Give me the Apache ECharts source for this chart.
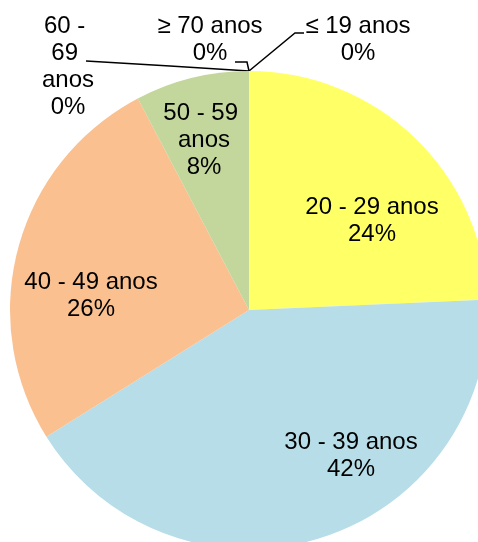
<!DOCTYPE html>
<html>
<head>
<meta charset="utf-8">
<script src="https://cdn.jsdelivr.net/npm/echarts@6/dist/echarts.min.js"></script>
<style>
  html, body { margin: 0; padding: 0; background: #fff; }
  #chart-container { width: 478px; height: 542px; }
</style>
</head>
<body>
<div id="chart-container"></div>
<script>
var categories = ['≤ 19 anos', '20 - 29 anos', '30 - 39 anos', '40 - 49 anos', '50 - 59 anos', '60 - 69 anos', '≥ 70 anos'];
var values = [0, 24.3, 41.8, 26.2, 7.7, 0, 0];
var colors = ['#FFFF66', '#FFFF66', '#B7DDE8', '#FAC090', '#C3D69B', '#C3D69B', '#C3D69B'];

// label centres (px) and leader lines for the 0% slices
var labelPos = [[358, 40], [372, 221], [351, 456], [91, 296], [204, 140], [68, 67], [210, 40]];
var top0 = [249, 71];
var leaders = {
    0: [top0, [295, 33], [304, 33]],
    5: [top0, [170, 66], [86, 61]],
    6: [top0, [247, 62], [235, 62]]
};
var wrapWidth = { 4: 90, 5: 58 };

var dom = document.getElementById('chart-container');
var myChart = echarts.init(dom, null, { renderer: 'canvas' });

var seriesData = categories.map(function (name, i) {
    var item = {
        name: name,
        value: values[i],
        itemStyle: { color: colors[i] }
    };
    var lab = {};
    if (wrapWidth[i]) {
        lab.width = wrapWidth[i];
        lab.overflow = 'break';
    }
    if (leaders[i]) {
        lab.position = 'outside';
        item.labelLine = { show: true };
    }
    item.label = lab;
    return item;
});

var option = {
    backgroundColor: '#ffffff',
    animation: false,
    series: [
        {
            type: 'pie',
            center: [249, 310],
            radius: 239,
            startAngle: 90,
            clockwise: true,
            avoidLabelOverlap: false,
            itemStyle: { borderWidth: 0 },
            label: {
                show: true,
                position: 'inside',
                color: '#000',
                fontFamily: 'Liberation Sans, Arial, sans-serif',
                fontSize: 24,
                lineHeight: 27,
                align: 'center',
                formatter: function (p) {
                    return p.name + '\n' + Math.round(p.percent) + '%';
                }
            },
            labelLine: {
                show: false,
                lineStyle: { color: '#000', width: 1.5 }
            },
            labelLayout: function (p) {
                var i = p.dataIndex;
                var res = {
                    x: labelPos[i][0],
                    y: labelPos[i][1],
                    align: 'center',
                    verticalAlign: 'middle'
                };
                if (leaders[i]) {
                    res.labelLinePoints = leaders[i];
                }
                return res;
            },
            data: seriesData
        }
    ]
};

if (option && typeof option === 'object') {
    myChart.setOption(option);
}

window.addEventListener('resize', myChart.resize);
</script>
</body>
</html>
